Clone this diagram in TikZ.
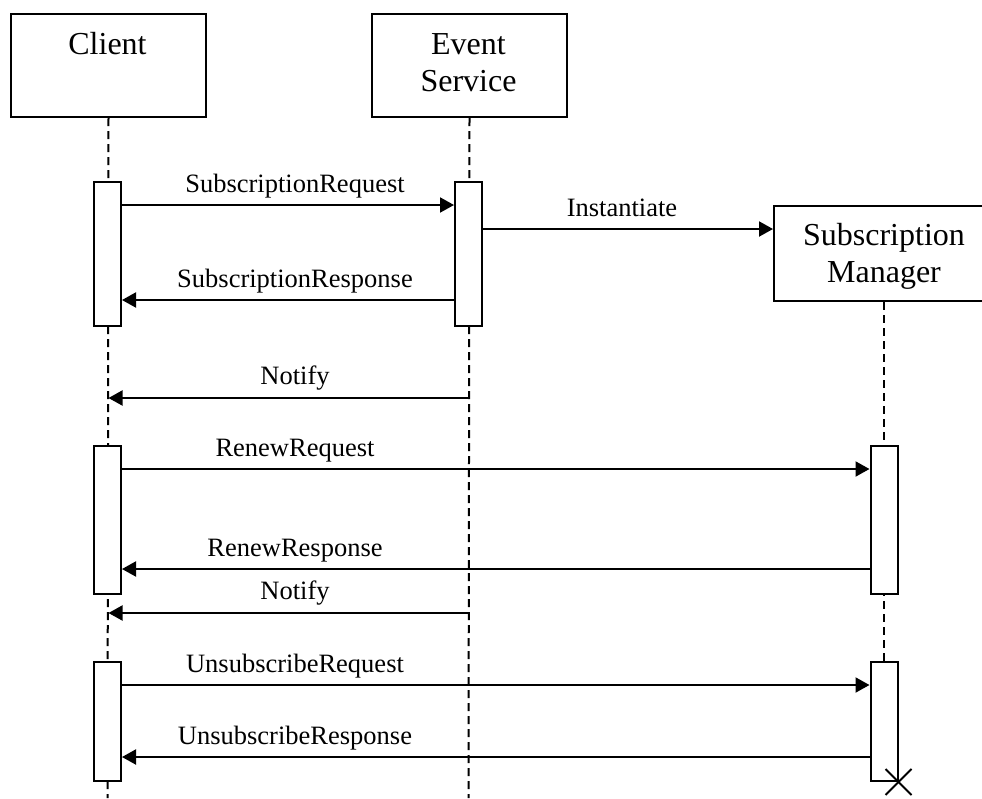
\documentclass[tikz,border=0pt]{standalone}
\usepackage{fontspec}
\setmainfont{Liberation Serif}
\usetikzlibrary{arrows.meta}
\begin{document}
\begin{tikzpicture}[x=1pt,y=-1pt,
  hbox/.style={draw, line width=2pt, minimum height=103pt, inner sep=0pt, anchor=north west},
  act/.style={draw, fill=white, line width=2pt, minimum width=27pt, inner sep=0pt, anchor=north},
  htext/.style={font=\fontsize{32}{37}\selectfont, align=center, anchor=base, inner sep=0pt},
  lbl/.style={font=\fontsize{26.5}{30}\selectfont, anchor=base, inner sep=0pt},
  life/.style={line width=2pt, dash pattern=on 8pt off 5pt},
  msg/.style={line width=2pt, -{Triangle[length=14pt,width=15pt]}},
  xmark/.style={line width=2pt}
]
\useasboundingbox (0,0) rectangle (982,798);
\clip (0,0) rectangle (982,798);

% headers
\node[hbox, minimum width=195pt] (cl) at (10,13) {};
\node[hbox, minimum width=195pt] (ev) at (371,13) {};
\node[hbox, minimum width=222pt, minimum height=95pt] (sm) at (773,205) {};
\node[htext] (clt) at (107.5,54) {Client};
\node[htext] (evt) at (468.5,91) {Event\\Service};
\node[htext] (smt) at (884,282) {Subscription\\Manager};

% lifeline ends
\coordinate (clend) at (107.5,798);
\coordinate (evend) at (468.5,798);
\coordinate (smend) at (884,780);
\draw[life] (cl.south) -- (clend);
\draw[life] (ev.south) -- (evend);
\draw[life] (sm.south -| smend) -- (smend);

% activation boxes
\node[act, minimum height=144pt] (ca1) at (107.5,181) {};
\node[act, minimum height=144pt] (ea1) at (468.5,181) {};
\node[act, minimum height=148pt] (ca2) at (107.5,445) {};
\node[act, minimum height=148pt] (sa2) at (884,445) {};
\node[act, minimum height=119pt] (ca3) at (107.5,661) {};
\node[act, minimum height=119pt] (sa3) at (884,661) {};

% messages
\draw[msg] (ca1.east |- 0,205) -- (ea1.west |- 0,205);
\node[lbl] (m1) at (295,192) {SubscriptionRequest};
\draw[msg] (ea1.east |- 0,229) -- (sm.west |- 0,229);
\node[lbl] (m2) at (622,216) {Instantiate};
\draw[msg] (ea1.west |- 0,300) -- (ca1.east |- 0,300);
\node[lbl] (m3) at (295,287) {SubscriptionResponse};
\draw[msg] (ev.south |- 0,398) -- (cl.south |- 0,398);
\node[lbl] (m4) at (295,384) {Notify};
\draw[msg] (ca2.east |- 0,469) -- (sa2.west |- 0,469);
\node[lbl] (m5) at (295,456) {RenewRequest};
\draw[msg] (sa2.west |- 0,569) -- (ca2.east |- 0,569);
\node[lbl] (m6) at (295,556) {RenewResponse};
\draw[msg] (ev.south |- 0,613) -- (cl.south |- 0,613);
\node[lbl] (m7) at (295,599) {Notify};
\draw[msg] (ca3.east |- 0,685) -- (sa3.west |- 0,685);
\node[lbl] (m8) at (295,672) {UnsubscribeRequest};
\draw[msg] (sa3.west |- 0,757) -- (ca3.east |- 0,757);
\node[lbl] (m9) at (295,744) {UnsubscribeResponse};

% destruction mark
\draw[xmark] ([shift={(-13,-13)}]sa3.south east) -- ([shift={(13,13)}]sa3.south east);
\draw[xmark] ([shift={(-13,13)}]sa3.south east) -- ([shift={(13,-13)}]sa3.south east);
\end{tikzpicture}
\end{document}
